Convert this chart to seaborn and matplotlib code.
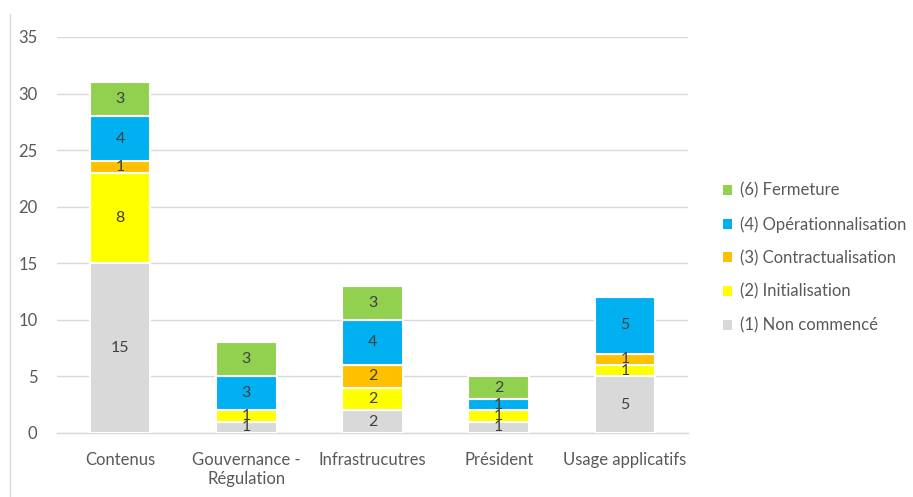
import matplotlib
matplotlib.use("Agg")
import matplotlib.pyplot as plt
from matplotlib.lines import Line2D
from matplotlib.patches import Patch
import seaborn as sns
import numpy as np

# Données
categories = ["Contenus", "Gouvernance -\nRégulation", "Infrastrucutres", "Président", "Usage applicatifs"]
series = ["(1) Non commencé", "(2) Initialisation", "(3) Contractualisation",
          "(4) Opérationnalisation", "(6) Fermeture"]
non_commence = [15, 1, 2, 1, 5]
initialisation = [8, 1, 2, 1, 1]
contractualisation = [1, 0, 2, 0, 1]
operationnalisation = [4, 3, 4, 1, 5]
fermeture = [3, 3, 3, 2, 0]
couleurs = ["#D9D9D9", "#FFFF00", "#FFC000", "#00B0F0", "#92D050"]

valeurs = [non_commence, initialisation, contractualisation, operationnalisation, fermeture]

sns.set_theme(style="white")
plt.rcParams["font.family"] = ["Lato", "DejaVu Sans"]

fig = plt.figure(figsize=(9.13, 4.97), dpi=100)
ax = fig.add_axes([0.0624, 0.1288, 0.6912, 0.7968])

bas = np.zeros(len(categories))
for nom, vals, col in zip(series, valeurs, couleurs):
    sns.barplot(x=categories, y=vals, bottom=bas, color=col, width=0.48,
                edgecolor="white", linewidth=1.5, saturation=1, ax=ax, zorder=3)
    for i, v in enumerate(vals):
        if v > 0:
            ax.text(i, bas[i] + v / 2, str(v), ha="center", va="center",
                    fontsize=11.5, color="#404040", zorder=5)
    bas = bas + np.array(vals)

ax.set_ylim(0, 35)
ax.set_xlim(-0.5, len(categories) - 0.5)
ax.set_yticks(range(0, 36, 5))
ax.yaxis.grid(True, color="#D9D9D9", linewidth=1)
ax.set_axisbelow(True)
for s in ["top", "right", "left"]:
    ax.spines[s].set_visible(False)
ax.spines["bottom"].set_color("#D9D9D9")
ax.spines["bottom"].set_linewidth(1)

ax.set_xticks(np.arange(-0.5, len(categories), 1.0), minor=True)
ax.tick_params(axis="x", which="major", length=0, pad=14, labelsize=12, labelcolor="#595959")
ax.tick_params(axis="x", which="minor", length=5, color="#D9D9D9", width=1)
ax.tick_params(axis="y", length=0, pad=14, labelsize=12, labelcolor="#595959")
ax.set_xlabel("")
ax.set_ylabel("")

handles = [Patch(facecolor=c, edgecolor="none") for c in couleurs][::-1]
ax.legend(handles, series[::-1], loc="center left", bbox_to_anchor=(1.045, 0.442),
          frameon=False, handlelength=0.55, handleheight=0.55, handletextpad=0.45,
          labelspacing=1.05, fontsize=12, labelcolor="#595959", borderaxespad=0)

# bordure gauche du cadre
fig.add_artist(Line2D([0.011, 0.011], [0.0, 0.972], color="#D9D9D9", linewidth=1))

fig.savefig("out.png", dpi=100)
